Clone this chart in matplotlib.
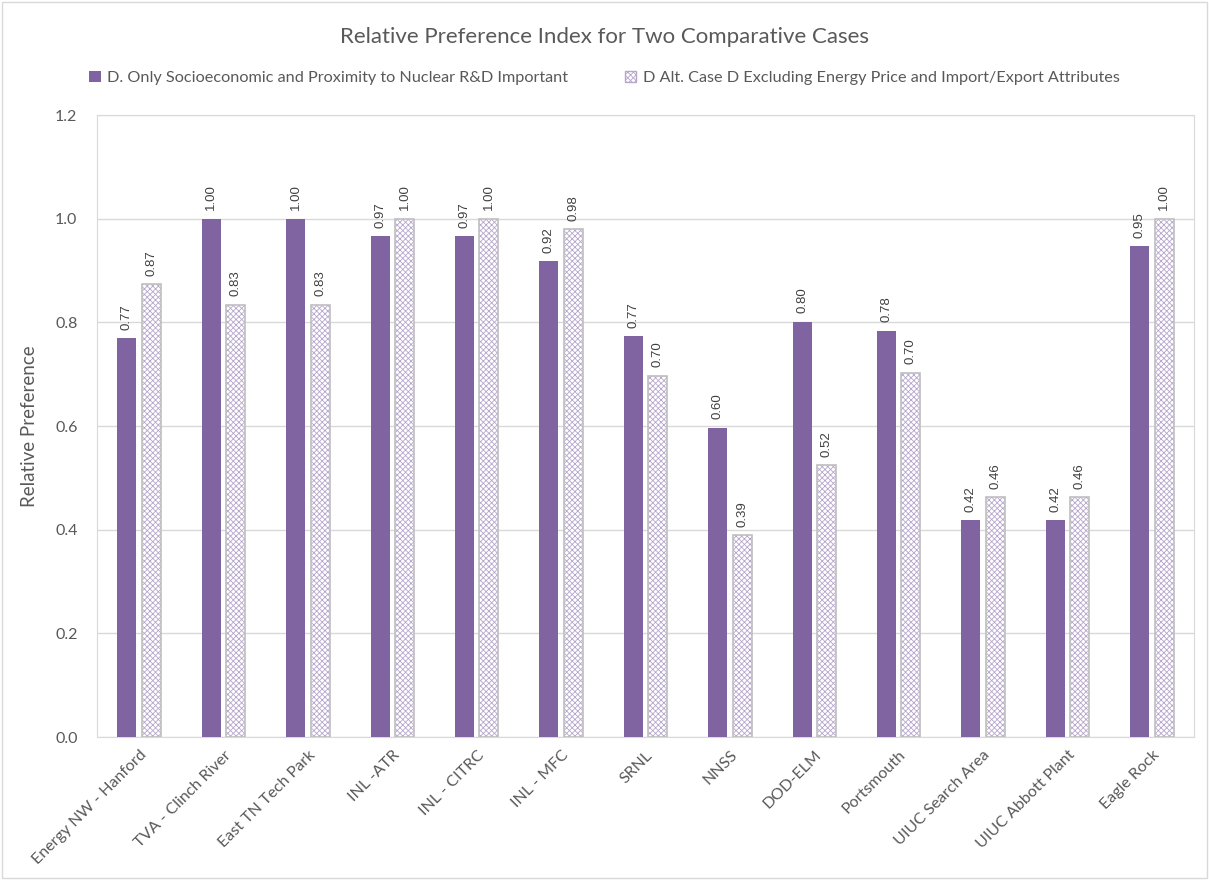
import numpy as np
import matplotlib
matplotlib.use("Agg")
import matplotlib.pyplot as plt
from matplotlib.patches import Patch, Rectangle

sites = ["Energy NW - Hanford", "TVA - Clinch River", "East TN Tech Park", "INL -ATR",
         "INL - CITRC", "INL - MFC", "SRNL", "NNSS", "DOD-ELM", "Portsmouth",
         "UIUC Search Area", "UIUC Abbott Plant", "Eagle Rock"]
case_d = [0.77, 1.00, 1.00, 0.966, 0.966, 0.918, 0.773, 0.597, 0.801, 0.784, 0.418, 0.418, 0.947]
case_d_alt = [0.873, 0.834, 0.834, 1.00, 1.00, 0.98, 0.697, 0.39, 0.524, 0.703, 0.463, 0.463, 1.00]
name_d = "D. Only Socioeconomic and Proximity to Nuclear R&D Important"
name_alt = "D Alt. Case D Excluding Energy Price and Import/Export Attributes"

purple = "#8064A2"
txt = "#595959"
plt.rcParams['font.family'] = ['Lato', 'DejaVu Sans']
plt.rcParams['hatch.linewidth'] = 0.6

fig = plt.figure(figsize=(12.09, 8.8), dpi=100)
ax = fig.add_axes([97/1209, 1-737/880, (1194-97)/1209, (737-115)/880])
fig.patches.append(Rectangle((0.002, 0.002), 0.996, 0.996, transform=fig.transFigure,
                             fill=False, edgecolor="#d9d9d9", linewidth=1))

x = np.arange(len(sites))
w = 0.225
off = 0.145
b1 = ax.bar(x - off, case_d, w, color=purple, zorder=3)
b2 = ax.bar(x + off, case_d_alt, w, color="white", edgecolor="#b7a6cc", hatch="xxxxxx",
            linewidth=0, zorder=3)
ax.bar(x + off, case_d_alt, w, fill=False, edgecolor="#bfbfbf", linewidth=1.2, zorder=4)

for bars, vals in ((b1, case_d), (b2, case_d_alt)):
    for r, v in zip(bars, vals):
        ax.annotate("%.2f" % v, (r.get_x() + r.get_width() / 2, v), xytext=(0, 6),
                    textcoords="offset points", ha="center", va="bottom", rotation=90,
                    fontsize=9.5, color="#404040", family="Liberation Sans")

ax.set_xlim(-0.5, len(sites) - 0.5)
ax.set_ylim(0, 1.2)
ax.set_yticks(np.arange(0, 1.21, 0.2))
ax.set_yticklabels(["%.1f" % t for t in np.arange(0, 1.21, 0.2)])
ax.set_xticks(x)
ax.set_xticklabels(sites, rotation=45, ha="right", rotation_mode="anchor")
ax.tick_params(axis="both", length=0, labelsize=11.5, colors=txt)
ax.tick_params(axis="x", pad=8)
ax.tick_params(axis="y", pad=14)
ax.grid(axis="y", color="#d9d9d9", linewidth=1, zorder=0)
for s in ax.spines.values():
    s.set_color("#d9d9d9")
ax.set_ylabel("Relative Preference", fontsize=13.5, color=txt, labelpad=12)

fig.text(0.5, 1 - 37/880, "Relative Preference Index for Two Comparative Cases",
         ha="center", va="center", fontsize=16, color=txt)
handles = [Patch(facecolor=purple), Patch(facecolor="white", edgecolor="#b7a6cc", hatch="xxxxxx")]
fig.legend(handles, [name_d, name_alt], loc="center", bbox_to_anchor=(0.5, 1 - 78/880),
           ncol=2, frameon=False, fontsize=11.7, labelcolor=txt, handlelength=0.7,
           handleheight=0.7, handletextpad=0.4, columnspacing=3.5)

fig.savefig("out.png", dpi=100)
